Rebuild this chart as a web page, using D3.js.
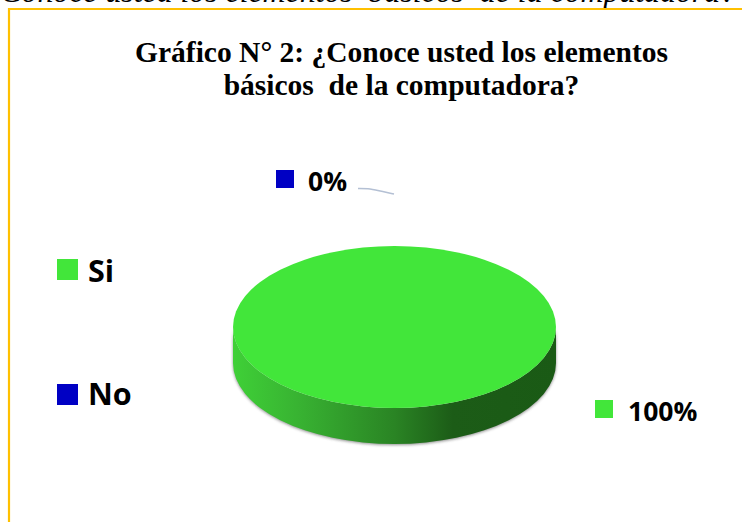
<!DOCTYPE html>
<html><head><meta charset="utf-8">
<script src="https://cdn.jsdelivr.net/npm/d3@7/dist/d3.min.js"></script>
<style>html,body{margin:0;padding:0;background:#fff;overflow:hidden}svg{display:block}text{white-space:pre}</style>
</head><body><svg id="c" width="742" height="522"></svg>
<script>
const categories = ["Si", "No"];
const values = [100, 0];
const valueLabels = ["100%", "0%"];
const colors = ["#42e63a", "#0000c4"];
const titleLines = ["Gráfico N° 2: ¿Conoce usted los elementos", "básicos  de la computadora?"];
const headerText = "Conoce usted los elementos  básicos  de la computadora?";

const W = 742, H = 522;
const svg = d3.select("#c");
const cx = 394.5, cy = 327, rx = 161.5, ry = 81, depth = 36;
const sans = "'Open Sans','Noto Sans',sans-serif";
const serif = "'Liberation Serif',serif";

const defs = svg.append("defs");
const grad = defs.append("linearGradient").attr("id", "side").attr("x1", 0).attr("x2", 1).attr("y1", 0).attr("y2", 0);
[[0, "#3fd037"], [0.2, "#38b332"], [0.5, "#2a8424"], [0.68, "#1c5c17"], [1, "#1a5a15"]]
  .forEach(([o, c]) => grad.append("stop").attr("offset", o).attr("stop-color", c));
defs.append("filter").attr("id", "blur").attr("x", "-10%").attr("y", "-10%").attr("width", "120%").attr("height", "120%")
  .append("feGaussianBlur").attr("stdDeviation", 1.6);

// Clipped caption from the page above the chart
svg.append("text").attr("x", 736).attr("y", 2).attr("text-anchor", "end")
  .attr("font-family", serif).attr("font-style", "italic").attr("font-size", 31.8).attr("fill", "#000")
  .text(headerText);

// Frame
svg.append("path").attr("d", `M9 ${H}V9H${W}`).attr("fill", "none").attr("stroke", "#ffc000").attr("stroke-width", 2.2);

// Title
svg.append("g").selectAll("text").data(titleLines).join("text")
  .attr("x", 401.5).attr("y", (d, i) => 62 + i * 33).attr("text-anchor", "middle")
  .attr("font-family", serif).attr("font-weight", "bold").attr("font-size", 29.5).attr("fill", "#000")
  .text(d => d);

// Pie
const pieData = d3.pie().sort(null)(values);
const arc = d3.arc().innerRadius(0).outerRadius(1);
const sideD = `M${cx - rx} ${cy}v${depth}A${rx} ${ry} 0 0 0 ${cx + rx} ${cy + depth}V${cy}A${rx} ${ry} 0 0 1 ${cx - rx} ${cy}Z`;
svg.append("path").attr("d", sideD).attr("fill", "#7a7a7a").attr("opacity", 0.85).attr("filter", "url(#blur)")
  .attr("transform", "translate(0,1)");
svg.append("path").attr("d", sideD).attr("fill", "url(#side)");
const pie = svg.append("g").attr("transform", `translate(${cx},${cy}) scale(${rx},${ry})`);
pie.selectAll("path").data(pieData).join("path")
  .attr("d", arc).attr("fill", (d, i) => colors[i]);

// Leader line for the 0% label
const line = d3.line().curve(d3.curveBasis);
const leaderPts = [[358, 188.5], [368, 188.5], [378, 190.5], [394, 194]];
svg.append("path").attr("d", line(leaderPts)).attr("fill", "none").attr("stroke", "#b4c0d4").attr("stroke-width", 1.5);

// Legend
const legendPos = [[57, 259, 21, 88, 282], [57, 384, 21, 88, 405]];
const labelPos = [[595, 400, 18, 628, 421], [276, 170, 18, 308, 191]];
const put = (g, txt, col, x, y, s, tx, ty, fs) => {
  g.append("rect").attr("x", x).attr("y", y).attr("width", s).attr("height", s).attr("fill", col);
  g.append("text").attr("x", tx).attr("y", ty).attr("font-family", sans).attr("font-weight", 700)
    .attr("font-size", fs).attr("fill", "#000").text(txt);
};
const g = svg.append("g");
categories.forEach((c, i) => { const p = legendPos[i]; put(g, c, colors[i], p[0], p[1], p[2], p[3], p[4], 30.5); });
valueLabels.forEach((t, i) => { const p = labelPos[i]; put(g, t, colors[i], p[0], p[1], p[2], p[3], p[4], 26.5); });
</script></body></html>
